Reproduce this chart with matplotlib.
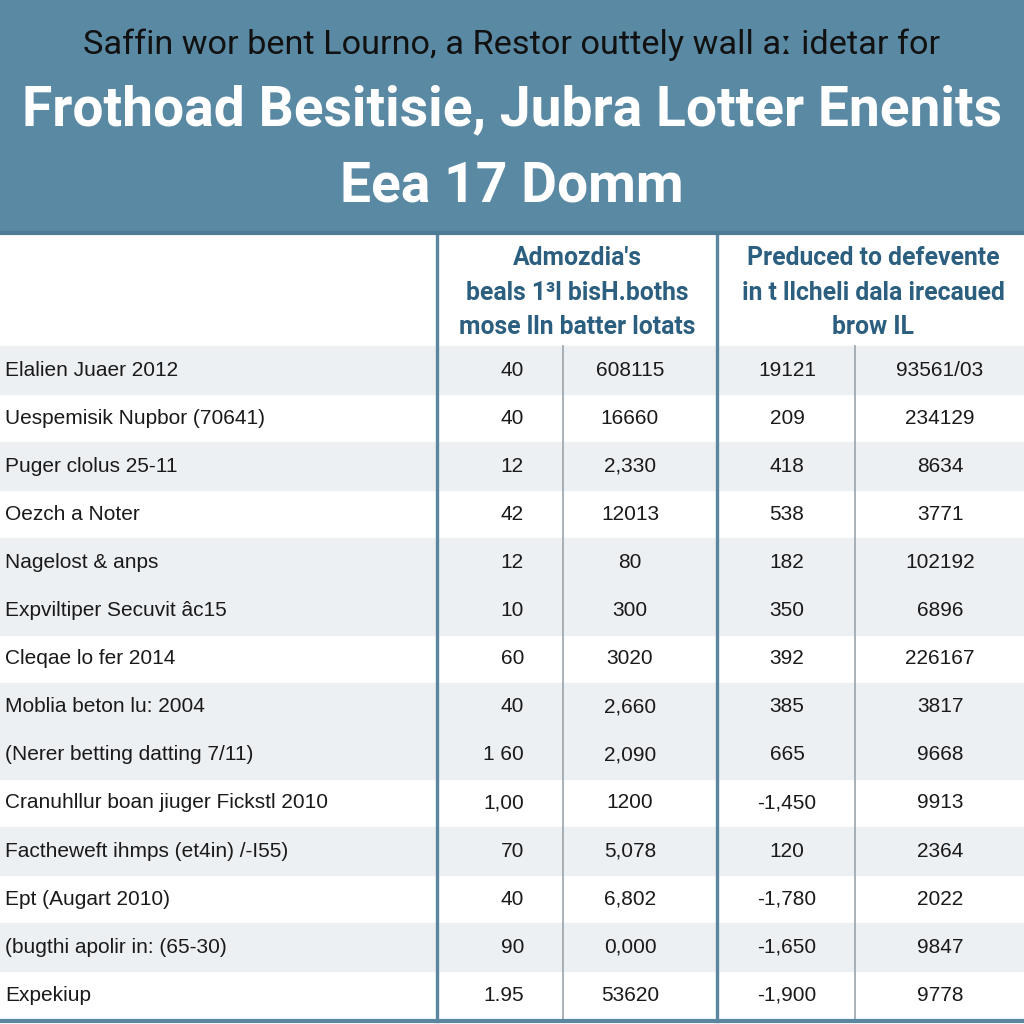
import matplotlib
matplotlib.use('Agg')
import matplotlib.pyplot as plt

# title lines
title_top = "Saffin wor bent Lourno, a Restor outtely wall a\u02d0 idetar for"
title_main = "Frothoad Besitisie, Jubra Lotter Enenits"
title_sub = "Eea 17 Domm"

# column group headers
head_left = ["Admozdia's", "beals 1\u00b3l bisH.boths", "mose lln batter lotats"]
head_right = ["Preduced to defevente", "in t llcheli dala irecaued", "brow IL"]

# row labels and column values
row_labels = [
    "Elalien Juaer 2012",
    "Uespemisik Nupbor (70641)",
    "Puger clolus 25-11",
    "Oezch a Noter",
    "Nagelost & anps",
    "Expviltiper Secuvit \u00e2c15",
    "Cleqae lo fer 2014",
    "Moblia beton lu: 2004",
    "(Nerer betting datting 7/11)",
    "Cranuhllur boan jiuger Fickstl 2010",
    "Factheweft ihmps (et4in) /-I55)",
    "Ept (Augart 2010)",
    "(bugthi apolir in: (65-30)",
    "Expekiup",
]
col_a = ["40", "40", "12", "42", "12", "10", "60", "40", "1 60", "1,00", "70", "40", "90", "1.95"]
col_b = ["608115", "16660", "2,330", "12013", "80", "300", "3020", "2,660", "2,090", "1200",
         "5,078", "6,802", "0,000", "53620"]
col_c = ["19121", "209", "418", "538", "182", "350", "392", "385", "665", "-1,450",
         "120", "-1,780", "-1,650", "-1,900"]
col_d = ["93561/03", "234129", "8634", "3771", "102192", "6896", "226167", "3817", "9668", "9913",
         "2364", "2022", "9847", "9778"]
shaded = [1, 0, 1, 0, 1, 1, 0, 1, 1, 0, 1, 0, 1, 0]

band = '#5a89a4'
line_col = '#5b86a0'
head_txt = '#2c5f7f'
cond = ['Roboto', 'DejaVu Sans']
body = ['Liberation Sans', 'DejaVu Sans']

fig = plt.figure(figsize=(10.24, 10.24), dpi=100)
ax = fig.add_axes([0, 0, 1, 1])
ax.set_xlim(0, 1024)
ax.set_ylim(1024, 0)
ax.axis('off')
fig.patch.set_facecolor('white')
renderer = fig.canvas.get_renderer()


def fit(t, width):
    # scale the font so the text spans the wanted pixel width
    w = t.get_window_extent(renderer).width
    t.set_fontsize(t.get_fontsize() * width / w)
    return t


# header band
ax.axhspan(0, 233, color=band, zorder=0)
ax.axhline(233, color='#4d7a95', lw=3, zorder=3)

fit(ax.text(512, 45, title_top, ha='center', va='center', fontsize=28,
            family=cond, color='#111111'), 855)
t2 = fit(ax.text(512, 110, title_main, ha='center', va='center', fontsize=40,
                 family=cond, weight='bold', color='white'), 980)
ax.text(512, 186, title_sub, ha='center', va='center', fontsize=t2.get_fontsize(),
        family=cond, weight='bold', color='white')

# column headers
hl = fit(ax.text(577, 327, head_left[2], ha='center', va='center', fontsize=19,
                 family=cond, weight='bold', color=head_txt), 237)
hs = hl.get_fontsize()
for i in range(3):
    y = 258 + i * 34.5
    if i < 2:
        ax.text(577, y, head_left[i], ha='center', va='center', fontsize=hs, family=cond,
                weight='bold', color=head_txt)
    ax.text(873, y, head_right[i], ha='center', va='center', fontsize=hs, family=cond,
            weight='bold', color=head_txt)

# rows
row_h = 48.1
top = 346
for i, lab in enumerate(row_labels):
    y0 = top + i * row_h
    yc = y0 + row_h / 2
    if shaded[i]:
        ax.axhspan(y0, y0 + row_h, color='#edf0f3', zorder=0)
    ax.text(5, yc, lab, ha='left', va='center', fontsize=15, family=body, color='#1a1a1a')
    ax.text(524, yc, col_a[i], ha='right', va='center', fontsize=15, family=body, color='#1a1a1a')
    ax.text(630, yc, col_b[i], ha='center', va='center', fontsize=15, family=body, color='#1a1a1a')
    ax.text(787, yc, col_c[i], ha='center', va='center', fontsize=15, family=body, color='#1a1a1a')
    ax.text(940, yc, col_d[i], ha='center', va='center', fontsize=15, family=body, color='#1a1a1a')

bottom = top + len(row_labels) * row_h

# grid lines
for x in (437, 717):
    ax.plot([x, x], [233, bottom + 2], color=line_col, lw=2.4, zorder=2)
for x in (563, 855):
    ax.plot([x, x], [top, bottom], color='#9aa4ab', lw=1.2, zorder=2)
ax.axhline(bottom + 2, color=line_col, lw=3, zorder=3)

fig.savefig('out.png', dpi=100, facecolor='white')
